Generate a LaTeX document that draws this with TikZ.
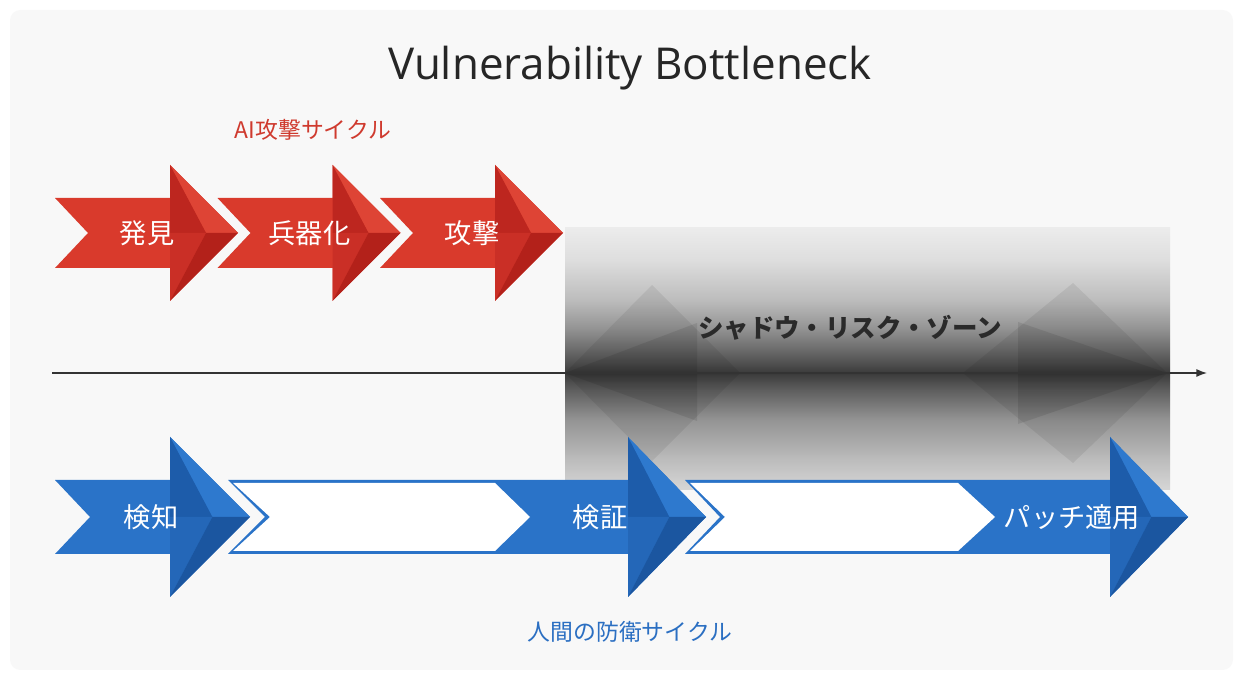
\documentclass[tikz,border=0pt]{standalone}
\usepackage{fontspec}
\setmainfont{Noto Sans CJK JP}
\newfontfamily\titlefont{Open Sans}
\usetikzlibrary{arrows.meta}

\definecolor{paper}{HTML}{F8F8F8}
\definecolor{titlegray}{HTML}{262626}
\definecolor{linegray}{HTML}{333333}
\definecolor{zonetext}{HTML}{2A2A2A}
\definecolor{redtext}{HTML}{CF3A2E}
\definecolor{bluetext}{HTML}{2B6FC2}
\definecolor{redbody}{HTML}{D93A2C}
\definecolor{redlight}{HTML}{DE4435}
\definecolor{reddark}{HTML}{BD261F}
\definecolor{redmid}{HTML}{CA2F26}
\definecolor{redshade}{HTML}{B3211A}
\definecolor{bluebody}{HTML}{2A73C8}
\definecolor{bluelight}{HTML}{2E79CE}
\definecolor{bluedark}{HTML}{1D5CAA}
\definecolor{bluemid}{HTML}{2467B8}
\definecolor{blueshade}{HTML}{1B56A0}

\pgfdeclareverticalshading{shadowzone}{100bp}{
  rgb(0bp)=(.84,.84,.84);
  rgb(25bp)=(.84,.84,.84);
  rgb(30.7bp)=(.74,.74,.74);
  rgb(38.4bp)=(.58,.58,.58);
  rgb(44.1bp)=(.37,.37,.37);
  rgb(47.3bp)=(.23,.23,.23);
  rgb(50.8bp)=(.38,.38,.38);
  rgb(55.9bp)=(.58,.58,.58);
  rgb(61.3bp)=(.74,.74,.74);
  rgb(68.9bp)=(.87,.87,.87);
  rgb(75bp)=(.925,.925,.925);
  rgb(100bp)=(.925,.925,.925)}

% #1 colour, #2 tail, #3 notch, #4 head base, #5 tip, #6 mid y, #7 body half, #8 head half
\newcommand{\facetarrow}[8]{%
  \fill[#1body] (#2,#6+#7) -- (#4,#6+#7) -- (#4,#6+#8) -- (#5,#6) -- (#4,#6-#8)
    -- (#4,#6-#7) -- (#2,#6-#7) -- (#3,#6) -- cycle;
  \coordinate (inner) at ({(#5)-0.47*((#5)-(#4))},#6);
  \fill[#1light] (#4,#6+#8) -- (#5,#6) -- (inner) -- cycle;
  \fill[#1dark] (#4,#6+#8) -- (inner) -- (#4,#6) -- cycle;
  \fill[#1mid] (#4,#6-#8) -- (inner) -- (#4,#6) -- cycle;
  \fill[#1shade] (#4,#6-#8) -- (#5,#6) -- (inner) -- cycle;
}

\begin{document}
\begin{tikzpicture}[x=0.02cm, y=0.02cm,
    titletext/.style={font=\titlefont\fontsize{25}{30}\selectfont, text=titlegray},
    cyclelabel/.style={font=\fontsize{13}{16}\selectfont},
    steplabel/.style={font=\fontsize{15.5}{18}\selectfont, text=white},
    zonelabel/.style={font=\bfseries\fontsize{14.5}{18}\selectfont, text=zonetext},
    timeline/.style={-{Latex[length=6pt,width=4.5pt]}, line width=0.7pt, draw=linegray},
    shadow/.style={black, opacity=0.07}
]

\useasboundingbox (0,0) rectangle (1243,675);
\fill[white] (0,0) rectangle (1243,675);
\fill[paper, rounded corners=6pt] (10,5) rectangle (1233,665);

% Shadow zone
\shade[shading=shadowzone] (565,185) rectangle (1170,447);
\fill[shadow] (565,302) -- (652,390) -- (740,302) -- (652,214) -- cycle;
\fill[shadow, opacity=0.09] (565,302) -- (697,352) -- (697,254) -- cycle;
\fill[shadow] (1167,302) -- (1073,392) -- (963,302) -- (1073,212) -- cycle;
\fill[shadow, opacity=0.09] (1167,302) -- (1018,353) -- (1018,251) -- cycle;

% Timeline
\coordinate (tlstart) at (52,302);
\coordinate (tlend) at (1207,302);
\draw[timeline] (tlstart) -- (tlend);

% Attack arrows
\foreach \i in {0,1,2} {
  \pgfmathsetmacro{\tail}{55+162.5*\i}
  \pgfmathsetmacro{\notch}{\tail+33}
  \pgfmathsetmacro{\base}{\tail+115}
  \pgfmathsetmacro{\tip}{\tail+183}
  \facetarrow{red}{\tail}{\notch}{\base}{\tip}{442}{35}{68}
}

% Defence arrows
\facetarrow{blue}{55}{90}{170}{250}{158}{37}{80}
\facetarrow{blue}{228}{265}{628}{706}{158}{37}{80}
\facetarrow{blue}{685}{720}{1110}{1188}{158}{37}{80}
\fill[white] (233,192) -- (495,192) -- (530,158) -- (495,124) -- (233,124) -- (270,158) -- cycle;
\fill[white] (690,192) -- (958,192) -- (995,158) -- (958,124) -- (690,124) -- (725,158) -- cycle;

% Nodes
\node[titletext] (title) at (630,607) {Vulnerability Bottleneck};
\node[cyclelabel, text=redtext] (aicycle) at (313,545) {AI攻撃サイクル};
\node[steplabel] (hakken) at (147,442) {発見};
\node[steplabel] (heikika) at (309.5,442) {兵器化};
\node[steplabel] (kougeki) at (472,442) {攻撃};
\node[zonelabel] (zone) at (850,347) {シャドウ・リスク・ゾーン};
\node[steplabel] (kenchi) at (151,158) {検知};
\node[steplabel] (kenshou) at (600,158) {検証};
\node[steplabel] (patch) at (1072,158) {パッチ適用};
\node[cyclelabel, text=bluetext] (humancycle) at (630,43) {人間の防衛サイクル};

\end{tikzpicture}
\end{document}
